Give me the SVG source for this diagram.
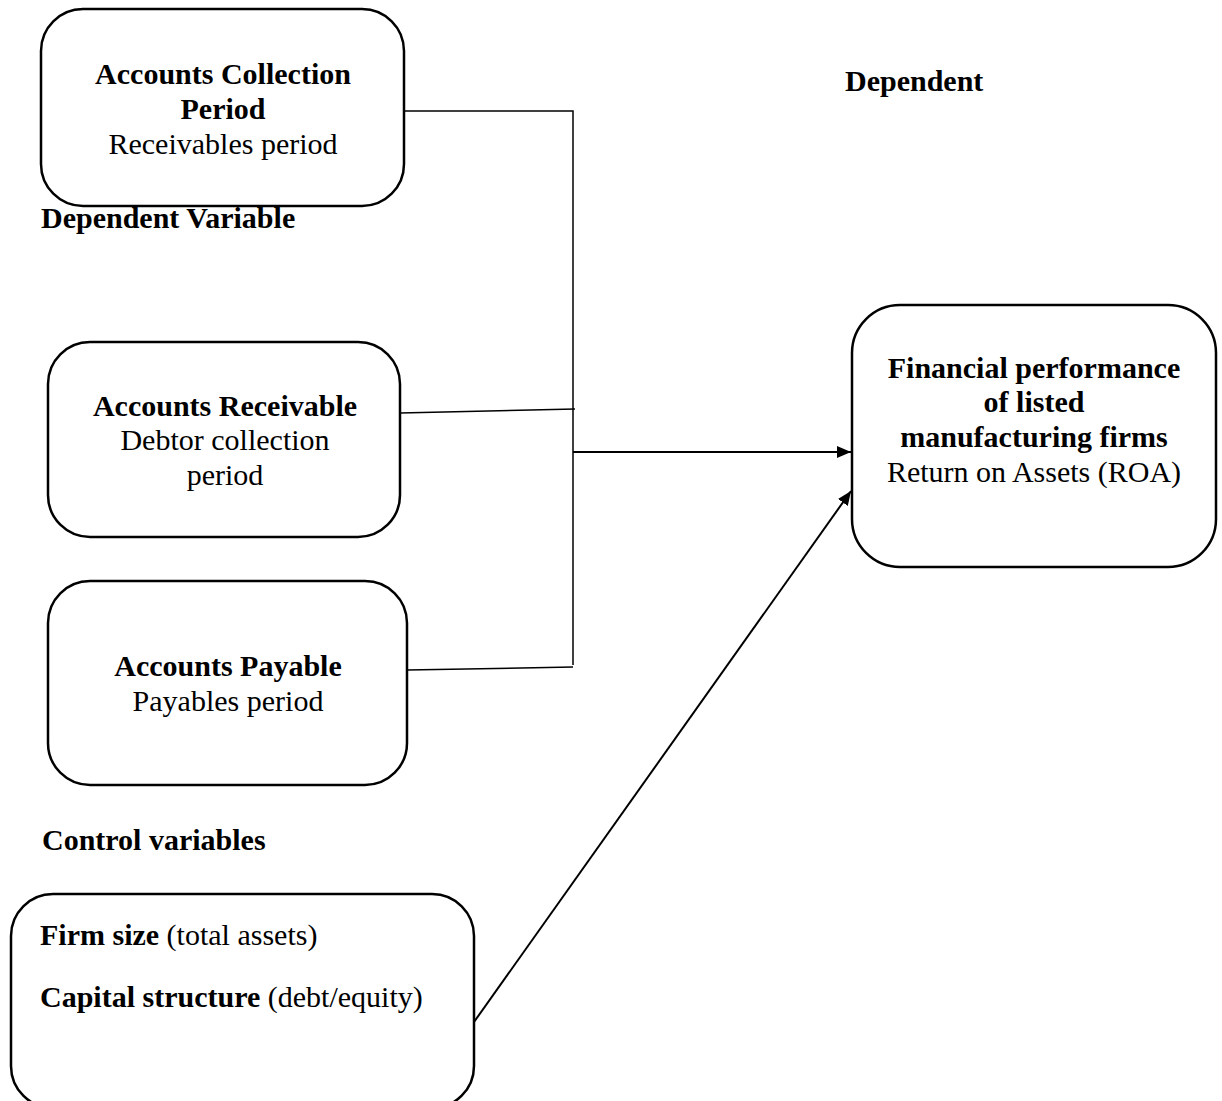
<svg xmlns="http://www.w3.org/2000/svg" width="1222" height="1101" viewBox="0 0 1222 1101">
<defs>
<style>
.box{fill:#fff;stroke:#000;stroke-width:2.5}
.t{font-family:"Liberation Serif","Times New Roman",serif;font-size:30px;fill:#000}
.b{font-weight:bold}
.c{text-anchor:middle}
.ln{fill:none;stroke:#000;stroke-width:1.5}
.ar{fill:none;stroke:#000;stroke-width:2}
</style>
<marker id="ah" markerWidth="14" markerHeight="12" refX="14" refY="6" orient="auto" markerUnits="userSpaceOnUse">
<path d="M0,0 L14,6 L0,12 z" fill="#000"/>
</marker>
</defs>
<rect width="1222" height="1101" fill="#fff"/>
<g id="connectors">
<path class="ln" d="M404,111 L573,111 L573,665"/>
<path class="ln" d="M400,413 L575,409"/>
<path class="ln" d="M407,670 L573,667"/>
<path class="ar" d="M573,452 L851,452" marker-end="url(#ah)"/>
<path class="ar" d="M474,1022 L851,491" marker-end="url(#ah)"/>
</g>
<g id="acp">
<rect class="box" x="41" y="9" width="363" height="197" rx="42"/>
<text class="t b c" x="223" y="84">Accounts Collection</text>
<text class="t b c" x="223" y="119">Period</text>
<text class="t c" x="223" y="154">Receivables period</text>
</g>
<text class="t b" x="41" y="228">Dependent Variable</text>
<text class="t b" x="845" y="91">Dependent</text>
<g id="ar-node">
<rect class="box" x="48" y="342" width="352" height="195" rx="42"/>
<text class="t b c" x="225" y="416">Accounts Receivable</text>
<text class="t c" x="225" y="450">Debtor collection</text>
<text class="t c" x="225" y="485">period</text>
</g>
<g id="ap">
<rect class="box" x="48" y="581" width="359" height="204" rx="42"/>
<text class="t b c" x="228" y="676">Accounts Payable</text>
<text class="t c" x="228" y="711">Payables period</text>
</g>
<text class="t b" x="42" y="850">Control variables</text>
<g id="fp">
<rect class="box" x="852" y="305" width="364" height="262" rx="48"/>
<text class="t b c" x="1034" y="378">Financial performance</text>
<text class="t b c" x="1034" y="412">of listed</text>
<text class="t b c" x="1034" y="447">manufacturing firms</text>
<text class="t c" x="1034" y="482">Return on Assets (ROA)</text>
</g>
<g id="cv">
<rect class="box" x="11" y="894" width="463" height="214" rx="42"/>
<text class="t" x="40" y="945"><tspan class="b">Firm size</tspan> (total assets)</text>
<text class="t" x="40" y="1007"><tspan class="b">Capital structure</tspan> (debt/equity)</text>
</g>
</svg>
